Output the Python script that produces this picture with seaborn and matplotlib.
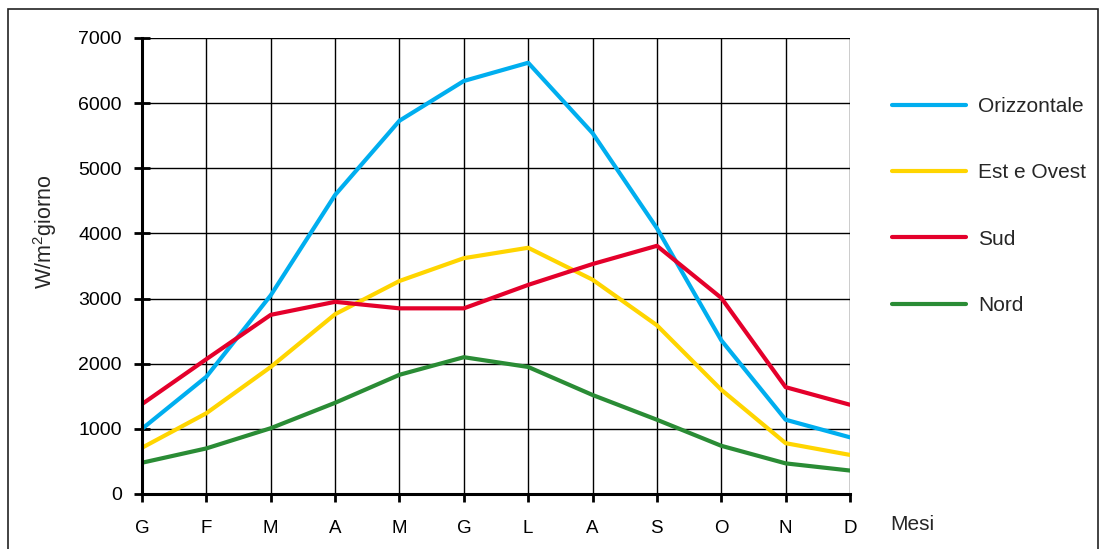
import numpy as np
import pandas as pd
import seaborn as sns
import matplotlib.pyplot as plt
from matplotlib.patches import Rectangle

mesi = ["G", "F", "M", "A", "M", "G", "L", "A", "S", "O", "N", "D"]
serie = ["Orizzontale", "Est e Ovest", "Sud", "Nord"]
orizzontale = [1000, 1800, 3050, 4590, 5730, 6340, 6620, 5540, 4080, 2360, 1140, 870]
est_ovest = [710, 1240, 1950, 2760, 3270, 3620, 3780, 3290, 2590, 1600, 780, 600]
sud = [1380, 2070, 2750, 2950, 2850, 2850, 3210, 3530, 3810, 3010, 1640, 1370]
nord = [480, 700, 1010, 1400, 1830, 2100, 1950, 1520, 1140, 740, 470, 360]
colori = ["#00AEEF", "#FFD500", "#E4002B", "#2A8C35"]

sns.set_style("white")
plt.rcParams['font.family'] = ['Liberation Sans', 'DejaVu Sans']
plt.rcParams['mathtext.default'] = 'regular'

df = pd.DataFrame({
    "mese": list(range(12)) * 4,
    "valore": orizzontale + est_ovest + sud + nord,
    "serie": np.repeat(serie, 12),
})

fig = plt.figure(figsize=(11.06, 5.49), dpi=100)
ax = fig.add_axes([142 / 1106, 1 - 494 / 549, (850 - 142) / 1106, (494 - 38) / 549])

sns.lineplot(data=df, x="mese", y="valore", hue="serie", hue_order=serie,
             palette=colori, linewidth=3, sort=False, ax=ax, zorder=3)

ax.set_xlim(0, 11)
ax.set_ylim(0, 7000)
ax.set_xticks(range(12))
ax.set_xticklabels(mesi)
ax.set_yticks(range(0, 7001, 1000))
ax.grid(True, color="black", linewidth=1)
for s in ["top", "right"]:
    ax.spines[s].set_visible(False)
for s in ["left", "bottom"]:
    ax.spines[s].set_linewidth(2.2)
    ax.spines[s].set_color("black")
    ax.spines[s].set_zorder(4)
ax.tick_params(axis="y", direction="inout", length=11, width=2, pad=9,
               labelsize=14, colors="black", left=True)
ax.tick_params(axis="x", direction="out", length=6, width=2, pad=12.5,
               labelsize=13.5, colors="black", bottom=True)
ax.set_xlabel("")
ax.set_ylabel("")

leg = ax.legend(loc="upper left", bbox_to_anchor=(892 / 1106, 1 - 97 / 549),
                bbox_transform=fig.transFigure, frameon=False, fontsize=15,
                handlelength=3.56, handletextpad=0.58, labelspacing=2.27,
                borderpad=0, borderaxespad=0)
for line in leg.get_lines():
    line.set_linewidth(3)

fig.text(890 / 1106, 1 - 525 / 549, "Mesi", fontsize=15, va="center", ha="left")
fig.text(45 / 1106, 1 - 232 / 549, r"W/m$^2$giorno", fontsize=15.5,
         rotation=90, va="center", ha="center")

fig.add_artist(Rectangle((8 / 1106, -0.1), (1098 - 8) / 1106, 1.1 - 9 / 549,
                         transform=fig.transFigure, fill=False,
                         edgecolor="#222222", linewidth=1.2, clip_on=False))

plt.savefig("out.png", dpi=100)
